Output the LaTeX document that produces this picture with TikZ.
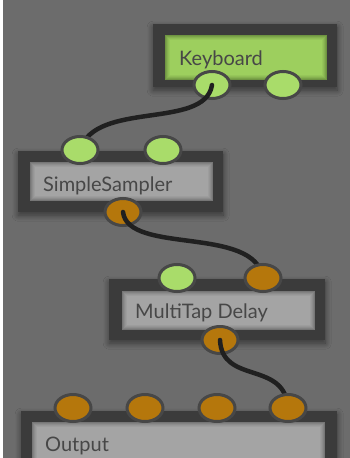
\documentclass[tikz,border=0pt]{standalone}
\usepackage{fontspec}
\setmainfont{Lato}
\usetikzlibrary{shapes.geometric,shadows.blur,calc}

\definecolor{bgGray}{HTML}{6C6C6C}
\definecolor{frameGray}{HTML}{3B3B3B}
\definecolor{portRim}{HTML}{474747}
\definecolor{portGreen}{HTML}{A9DC6A}
\definecolor{portOrange}{HTML}{B5770C}
\definecolor{labelGray}{HTML}{474747}
\definecolor{wireBlack}{HTML}{202020}
\definecolor{faceGray}{HTML}{A4A4A4}
\definecolor{edgeGray}{HTML}{767676}
\definecolor{faceGreen}{HTML}{9DCF5E}
\definecolor{edgeGreen}{HTML}{6E9441}

\tikzset{
  frame/.style={rectangle, fill=frameGray, inner sep=0pt, anchor=north west,
    blur shadow={shadow xshift=0pt, shadow yshift=-3pt, shadow blur radius=6pt,
      shadow opacity=50, shadow blur steps=10}},
  port/.style={ellipse, draw=portRim, line width=3pt, minimum width=36pt,
    minimum height=27pt, inner sep=0pt},
  inport/.style={port, fill=portGreen},
  outport/.style={port, fill=portOrange},
  wire/.style={draw=wireBlack, line width=4.5pt, line cap=round},
  title/.style={anchor=base west, inner sep=0pt, text=labelGray,
    font=\fontsize{20pt}{24pt}\selectfont},
}

% inset panel with a soft inner shadow: #1 = NW corner, #2 = SE corner,
% #3 = edge colour, #4 = face colour
\newcommand{\insetpanel}[4]{%
  \foreach \k/\mix in {0/0,1/25,2/50,3/70,4/85,5/100}{
    \fill[#4!\mix!#3] ($#1+(\k,\k)$) rectangle ($#2+(-\k,-\k)$);
  }%
}

\begin{document}
\begin{tikzpicture}[x=1pt, y=-1pt]
  \useasboundingbox (0,0) rectangle (350,458);
  \fill[bgGray] (0,0) rectangle (350,458);
  \fill[white] (0,0) rectangle (3,458);

  % module frames
  \node[frame, minimum width=184pt, minimum height=63pt] (kb) at (153,24) {};
  \node[frame, minimum width=205pt, minimum height=61pt] (ss) at (18,151) {};
  \node[frame, minimum width=216pt, minimum height=61pt] (mt) at (109,279) {};
  \node[frame, minimum width=316pt, minimum height=60pt] (out) at (21,411) {};

  % inset faces
  \insetpanel{(165,35)}{(327,80)}{edgeGreen}{faceGreen}
  \insetpanel{(30,162)}{(213,201)}{edgeGray}{faceGray}
  \insetpanel{(122,291)}{(315,330)}{edgeGray}{faceGray}
  \insetpanel{(32,422)}{(325,475)}{edgeGray}{faceGray}

  % module titles
  \node[title] (kbt) at (179,65) {Keyboard};
  \node[title] (sst) at (43,191) {SimpleSampler};
  \node[title] (mtt) at (135,318) {MultiTap Delay};
  \node[title] (outt) at (45,451) {Output};

  % output ports
  \node[inport] (kbo1) at (212,85) {};
  \node[inport] (kbo2) at (283,85) {};
  \node[outport] (sso) at (123,212) {};
  \node[outport] (mto) at (220,340) {};

  % patch cables
  \draw[wire] (kbo1.center) .. controls (205,130) and (95,100) .. (80,150);
  \draw[wire] (sso.center) .. controls (128,255) and (255,225) .. (263,278);
  \draw[wire] (mto.center) .. controls (222,385) and (285,360) .. (288,408);

  % input ports
  \node[inport] (ssi1) at (80,150) {};
  \node[inport] (ssi2) at (163,150) {};
  \node[inport] (mti1) at (177,278) {};
  \node[outport] (mti2) at (263,278) {};
  \node[outport] (outi1) at (73,408) {};
  \node[outport] (outi2) at (145,408) {};
  \node[outport] (outi3) at (217,408) {};
  \node[outport] (outi4) at (288,408) {};
\end{tikzpicture}
\end{document}
